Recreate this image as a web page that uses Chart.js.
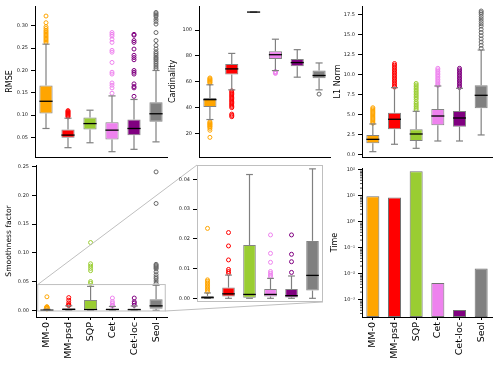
<!DOCTYPE html>
<html>
<head>
<meta charset="utf-8">
<script src="https://cdn.jsdelivr.net/npm/chart.js@4.4.1/dist/chart.umd.min.js"></script>
<style>
  html, body { margin: 0; padding: 0; background: #fff; }
  #lienzo { position: relative; width: 498px; height: 367px; }
  #lienzo canvas { position: absolute; left: 0; top: 0; }
</style>
</head>
<body>
<div id="lienzo">
  <canvas id="rmse" width="498" height="367"></canvas>
  <canvas id="cardinalidad" width="498" height="367"></canvas>
  <canvas id="normaL1" width="498" height="367"></canvas>
  <canvas id="suavidad" width="498" height="367"></canvas>
  <canvas id="suavidadZoom" width="498" height="367"></canvas>
  <canvas id="tiempo" width="498" height="367"></canvas>
</div>
<script>
const metodos = ['MM-0', 'MM-psd', 'SQP', 'Cet', 'Cet-loc', 'Seol'];
const colores = ['#ffa500', '#ff0000', '#9acd32', '#ee82ee', '#800080', '#808080'];

// cajas: [bigote inf, q1, mediana, q3, bigote sup]
const rmseCajas = [
  [0.070, 0.1034, 0.131, 0.1665, 0.259],
  [0.027, 0.0493, 0.0552, 0.068, 0.093],
  [0.038, 0.068, 0.081, 0.0945, 0.111],
  [0.018, 0.0455, 0.0663, 0.084, 0.143],
  [0.0233, 0.055, 0.070, 0.090, 0.135],
  [0.040, 0.085, 0.103, 0.129, 0.200]
];
const rmseAtipicos = [
  [0.322, 0.307, 0.298, 0.294, 0.290, 0.287, 0.284, 0.281, 0.278, 0.275, 0.272, 0.269, 0.266, 0.263],
  [0.110, 0.108, 0.106, 0.104, 0.102, 0.100, 0.098, 0.096],
  [],
  [0.285, 0.281, 0.277, 0.270, 0.263, 0.245, 0.241, 0.218, 0.196, 0.192, 0.172, 0.167, 0.161, 0.149],
  [0.281, 0.279, 0.267, 0.263, 0.248, 0.234, 0.229, 0.224, 0.200, 0.196, 0.192, 0.170, 0.164, 0.161, 0.142],
  [0.330, 0.327, 0.324, 0.321, 0.315, 0.310, 0.304, 0.285, 0.267, 0.256, 0.248, 0.242, 0.238, 0.234, 0.230, 0.227, 0.224, 0.220, 0.216, 0.212, 0.208, 0.204]
];
const rmseTicks = [0.05, 0.10, 0.15, 0.20, 0.25, 0.30];

const cardCajas = [
  [30.8, 40.5, 46.2, 47.4, 57.7],
  [53.8, 65.6, 70.0, 73.8, 82.0],
  [114, 114, 114, 114, 114],
  [68.7, 77.7, 81.0, 83.6, 93.0],
  [63.6, 72.0, 74.9, 77.7, 84.9],
  [53.8, 62.8, 64.9, 68.7, 74.6]
];
const cardAtipicos = [
  [63, 62.3, 61.6, 61, 60.3, 59.6, 59, 29, 28.3, 27.6, 27, 26.3, 25.6, 25, 24, 22.5, 17],
  [53, 52, 51, 50, 49, 48, 47, 46, 45, 44, 43, 42, 41, 40, 35, 34, 33],
  [],
  [68, 67.5, 67, 66.5],
  [],
  [50.5]
];
const cardTicks = [20, 40, 60, 80, 100];

const l1Cajas = [
  [0.33, 1.38, 1.88, 2.43, 3.81],
  [1.26, 3.14, 4.40, 5.23, 8.37],
  [0.75, 1.67, 2.55, 3.14, 5.40],
  [1.67, 3.64, 4.81, 5.69, 8.58],
  [1.67, 3.47, 4.56, 5.44, 8.29],
  [2.43, 5.78, 7.41, 8.67, 13.1]
];
const l1Atipicos = [
  [5.85, 5.7, 5.55, 5.4, 5.25, 5.1, 4.95, 4.8, 4.65, 4.5, 4.35, 4.2, 4.05, 3.9],
  [11.4, 11.2, 11.0, 10.8, 10.6, 10.4, 10.2, 10.0, 9.8, 9.6, 9.4, 9.2, 9.0, 8.8, 8.6, 8.45],
  [8.9, 8.7, 8.5, 8.3, 8.1, 7.9, 7.7, 7.5, 7.3, 7.1, 6.9, 6.6, 6.4, 6.2, 6.0, 5.8, 5.6],
  [10.8, 10.6, 10.4, 10.2, 10.0, 9.8, 9.6, 9.4, 9.2, 9.0, 8.8, 8.65],
  [10.8, 10.6, 10.4, 10.2, 10.0, 9.8, 9.6, 9.4, 9.2, 9.0, 8.8, 8.6, 8.4],
  [18.0, 17.8, 17.6, 17.3, 17.0, 16.7, 16.4, 16.1, 15.7, 15.3, 14.9, 14.5, 14.1, 13.7, 13.3]
];
const l1Ticks = [0, 2.5, 5, 7.5, 10, 12.5, 15, 17.5];

const suavCajas = [
  [0, 0, 0.0002, 0.0008, 0.0018],
  [0, 0.0006, 0.0015, 0.0036, 0.0078],
  [0, 0, 0.0013, 0.0179, 0.0416],
  [0, 0.0006, 0.0013, 0.0031, 0.0067],
  [0, 0.0003, 0.0009, 0.0031, 0.0075],
  [0, 0.0026, 0.0077, 0.0193, 0.0435]
];
const suavAtipicos = [
  [0.0235, 0.0062, 0.0057, 0.0052, 0.0047, 0.0042, 0.0037, 0.0032, 0.0027, 0.0022],
  [0.0221, 0.0176, 0.0129, 0.0097, 0.0090, 0.0084],
  [0.118, 0.081, 0.077, 0.073, 0.069, 0.050, 0.047],
  [0.0213, 0.0151, 0.0121, 0.0090, 0.0084, 0.0078, 0.0073],
  [0.0213, 0.0148, 0.0123, 0.0087],
  [0.241, 0.186, 0.080, 0.078, 0.076, 0.074, 0.072, 0.067, 0.062, 0.058, 0.055, 0.051, 0.047]
];
const suavTicks = [0, 0.05, 0.10, 0.15, 0.20, 0.25];
const zoomTicks = [0, 0.01, 0.02, 0.03, 0.04];

const tiempos = [9.7, 8.7, 90, 0.0045, 0.00041, 0.016];
const tiempoTicks = [0.001, 0.01, 0.1, 1, 10, 100];

const W = 498, H = 367;
Chart.defaults.font.family = 'DejaVu Sans';

// zonas de cada panel (area de dibujo en pixeles de la pagina)
const zonas = {
  rmse:     {l: 35,  t: 5,   r: 167, b: 157, cx: 10,  ejeX: 0},
  card:     {l: 199, t: 5,   r: 330, b: 157, cx: 173, ejeX: 0},
  l1:       {l: 362, t: 6,   r: 492, b: 157, cx: 338, ejeX: 0},
  suav:     {l: 36,  t: 165, r: 167, b: 317, cx: 9.5, ejeX: 50},
  zoom:     {l: 197, t: 165, r: 323, b: 302, cx: 0,   ejeX: 0},
  tiempo:   {l: 362, t: 168, r: 492, b: 317, cx: 335, ejeX: 50}
};

function linea(ctx, x0, y0, x1, y1) {
  ctx.beginPath();
  ctx.moveTo(x0, y0);
  ctx.lineTo(x1, y1);
  ctx.stroke();
}

function opcionesBase(zona, eje) {
  const lh = eje.fuente * 1.2;
  const izq = eje.titulo ? zona.cx - lh / 2 : zona.l - 25;
  const anchoY = zona.l - izq;
  const conX = zona.ejeX > 0;
  return {
    responsive: false,
    animation: false,
    events: [],
    layout: {padding: {left: izq, top: zona.t, right: W - zona.r, bottom: H - zona.b - zona.ejeX}},
    plugins: {legend: {display: false}, tooltip: {enabled: false}},
    scales: {
      x: {
        offset: true,
        grid: {display: conX, offset: false, drawOnChartArea: false, tickLength: 3, tickColor: '#000'},
        border: {display: eje.bordeX !== false, color: '#000', width: 1},
        ticks: {display: conX, autoSkip: false, minRotation: 90, maxRotation: 90, padding: 2, color: '#000', font: {size: 9.5}},
        afterFit: s => { s.height = zona.ejeX; }
      },
      y: {
        type: eje.tipo || 'linear',
        min: eje.min,
        max: eje.max,
        afterBuildTicks: s => { s.ticks = eje.marcas.map(v => ({value: v})); },
        grid: {drawOnChartArea: false, tickLength: 4, tickColor: '#000'},
        border: {display: eje.bordeY !== false, color: '#000', width: 1},
        ticks: {callback: eje.formato, padding: 3, color: '#222', font: {size: 5}},
        title: {display: !!eje.titulo, text: eje.titulo, padding: 0, color: '#000', font: {size: eje.fuente}},
        afterFit: s => { s.width = anchoY; }
      }
    }
  };
}

// bigotes, topes y medianas
function pluginBigotes(cajas) {
  return {
    id: 'bigotes',
    afterDatasetsDraw(chart) {
      const {ctx, chartArea: a, scales: {x, y}} = chart;
      const paso = x.getPixelForValue(1) - x.getPixelForValue(0);
      const ancho = paso * 0.6;
      ctx.save();
      ctx.beginPath();
      ctx.rect(a.left, a.top, a.right - a.left, a.bottom - a.top);
      ctx.clip();
      cajas.forEach((c, i) => {
        const cx = x.getPixelForValue(i);
        ctx.strokeStyle = '#808080';
        ctx.lineWidth = 1.2;
        linea(ctx, cx, y.getPixelForValue(c[0]), cx, y.getPixelForValue(c[1]));
        linea(ctx, cx, y.getPixelForValue(c[3]), cx, y.getPixelForValue(c[4]));
        linea(ctx, cx - ancho * 0.27, y.getPixelForValue(c[0]), cx + ancho * 0.27, y.getPixelForValue(c[0]));
        linea(ctx, cx - ancho * 0.27, y.getPixelForValue(c[4]), cx + ancho * 0.27, y.getPixelForValue(c[4]));
        ctx.strokeStyle = '#000';
        ctx.lineWidth = 1.3;
        linea(ctx, cx - ancho / 2, y.getPixelForValue(c[2]), cx + ancho / 2, y.getPixelForValue(c[2]));
      });
      ctx.restore();
    }
  };
}

function graficoCajas(id, zona, cajas, atipicos, eje, extras) {
  const datasets = [{
    type: 'bar',
    data: cajas.map(c => [c[1], c[3]]),
    backgroundColor: colores,
    borderColor: 'rgba(50,50,50,0.6)',
    borderWidth: 1,
    borderSkipped: false,
    barPercentage: 0.6,
    categoryPercentage: 1,
    order: 2
  }];
  atipicos.forEach((lista, i) => {
    datasets.push({
      type: 'line',
      data: lista.map(v => ({x: metodos[i], y: v})),
      showLine: false,
      pointRadius: 2,
      pointBorderWidth: 1,
      pointBorderColor: i === 5 ? '#666' : colores[i],
      pointBackgroundColor: 'rgba(0,0,0,0)',
      order: 1
    });
  });
  return new Chart(document.getElementById(id), {
    type: 'bar',
    data: {labels: metodos, datasets: datasets},
    options: opcionesBase(zona, eje),
    plugins: [pluginBigotes(cajas)].concat(extras || [])
  });
}

const dos = v => Number(v).toFixed(2);
const uno = v => Number(v).toFixed(1);
const ent = v => String(v);

graficoCajas('rmse', zonas.rmse, rmseCajas, rmseAtipicos,
  {min: 0.0061, max: 0.3445, marcas: rmseTicks, formato: dos, titulo: 'RMSE', fuente: 8});
graficoCajas('cardinalidad', zonas.card, cardCajas, cardAtipicos,
  {min: 1.8, max: 118.7, marcas: cardTicks, formato: ent, titulo: 'Cardinality', fuente: 8});
graficoCajas('normaL1', zonas.l1, l1Cajas, l1Atipicos,
  {min: -0.34, max: 18.63, marcas: l1Ticks, formato: uno, titulo: 'L1 Norm', fuente: 8});

// marco gris del recuadro ampliado
const marcoZoom = {
  id: 'marcoZoom',
  afterDraw(chart) {
    const {ctx, chartArea: a} = chart;
    ctx.save();
    ctx.strokeStyle = '#bfbfbf';
    ctx.lineWidth = 1;
    ctx.strokeRect(a.left + 0.5, a.top + 0.5, a.right - a.left - 1, a.bottom - a.top - 1);
    ctx.restore();
  }
};

const graficoZoom = graficoCajas('suavidadZoom', zonas.zoom, suavCajas, suavAtipicos,
  {min: -0.00124, max: 0.0448, marcas: zoomTicks, formato: dos, titulo: '', fuente: 8, bordeX: false, bordeY: false},
  [marcoZoom]);

// rectangulo y lineas de union hacia el recuadro ampliado
const uniones = {
  id: 'uniones',
  afterDraw(chart) {
    const {ctx, scales: {x, y}} = chart;
    const z = graficoZoom.chartArea;
    const ys = graficoZoom.scales.y;
    const paso = x.getPixelForValue(1) - x.getPixelForValue(0);
    const x0 = x.getPixelForValue(0) - 0.42 * paso;
    const x1 = x.getPixelForValue(5) + 0.42 * paso;
    const y0 = y.getPixelForValue(ys.max);
    const y1 = y.getPixelForValue(ys.min);
    ctx.save();
    ctx.strokeStyle = '#bfbfbf';
    ctx.lineWidth = 1;
    ctx.strokeRect(x0, y0, x1 - x0, y1 - y0);
    linea(ctx, x0, y0, z.left, z.top);
    linea(ctx, x1, y1, z.right, z.bottom);
    ctx.restore();
  }
};

graficoCajas('suavidad', zonas.suav, suavCajas, suavAtipicos,
  {min: -0.0117, max: 0.253, marcas: suavTicks, formato: dos, titulo: 'Smoothness factor', fuente: 7.6},
  [uniones]);

// grafico de tiempos, escala logaritmica
const sup = {'-': '\u207b', '0': '\u2070', '1': '\u00b9', '2': '\u00b2', '3': '\u00b3'};
const potencia = v => '10' + String(Math.round(Math.log10(v))).split('').map(c => sup[c]).join('');

const marcasMenores = {
  id: 'marcasMenores',
  afterDraw(chart) {
    const {ctx, chartArea: a, scales: {y}} = chart;
    ctx.save();
    ctx.strokeStyle = '#000';
    ctx.lineWidth = 0.7;
    for (let e = -4; e <= 2; e++) {
      for (let k = 2; k <= 9; k++) {
        const v = k * Math.pow(10, e);
        if (v < y.min || v > y.max) continue;
        const py = y.getPixelForValue(v);
        linea(ctx, a.left - 2, py, a.left, py);
      }
    }
    ctx.restore();
  }
};

new Chart(document.getElementById('tiempo'), {
  type: 'bar',
  data: {
    labels: metodos,
    datasets: [{
      data: tiempos,
      backgroundColor: colores,
      borderColor: 'rgba(80,80,80,0.8)',
      borderWidth: 1,
      borderSkipped: false,
      barPercentage: 0.6,
      categoryPercentage: 1
    }]
  },
  options: opcionesBase(zonas.tiempo,
    {tipo: 'logarithmic', min: 0.00022, max: 119, marcas: tiempoTicks, formato: potencia, titulo: 'Time', fuente: 8}),
  plugins: [marcasMenores]
});
</script>
</body>
</html>
